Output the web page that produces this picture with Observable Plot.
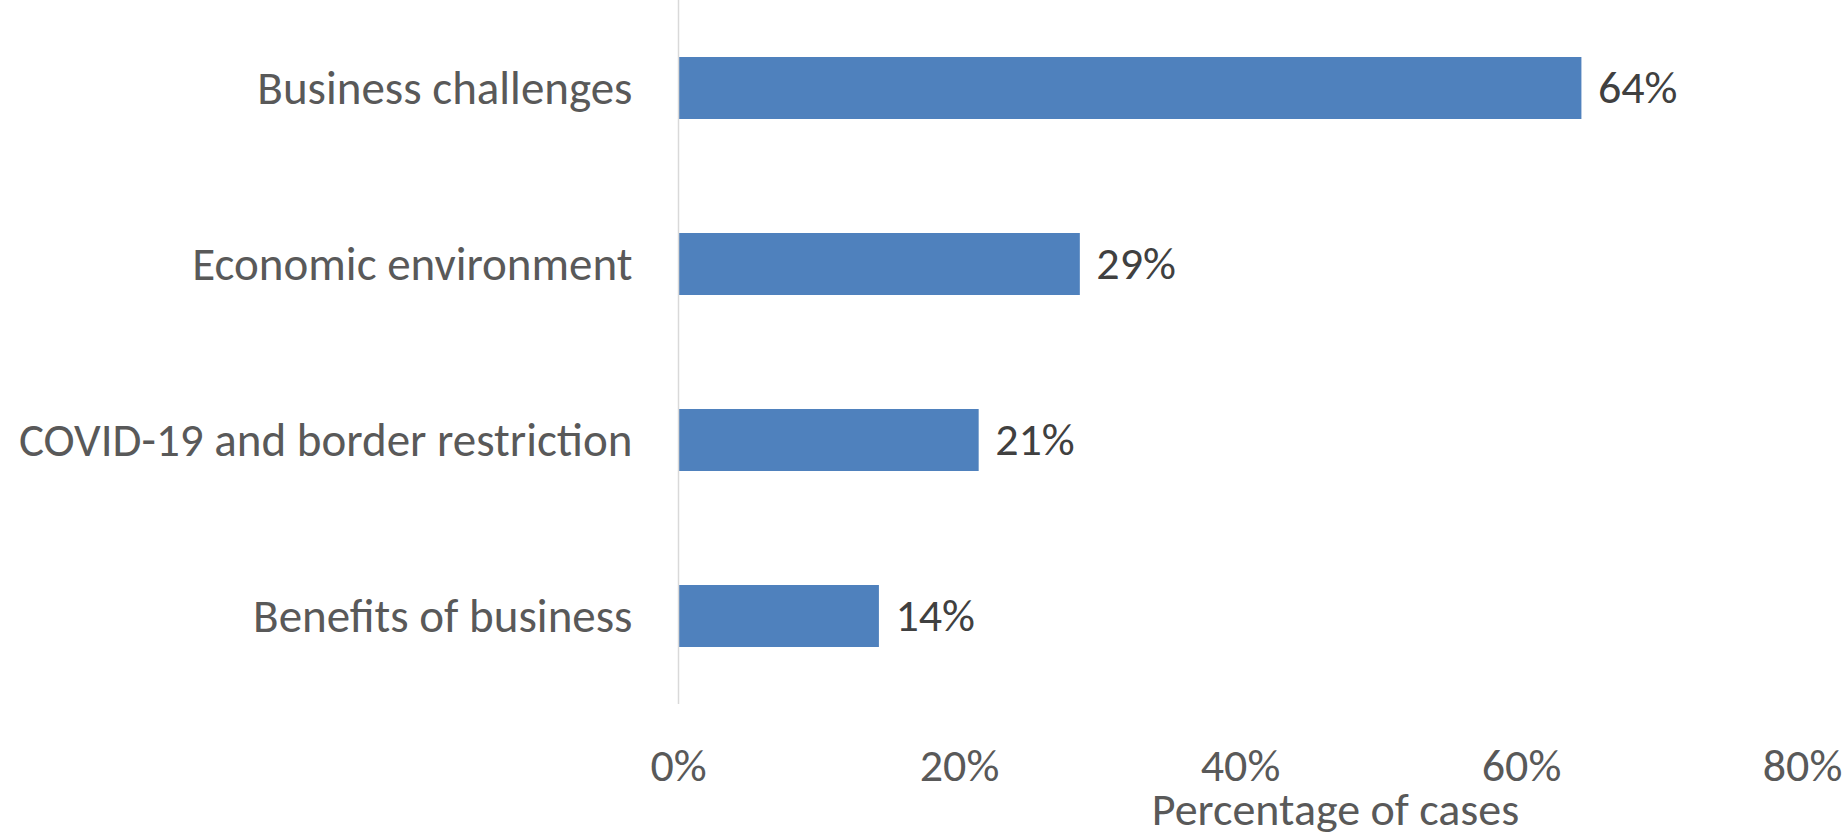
<!DOCTYPE html>
<html>
<head>
<meta charset="utf-8">
<script src="https://cdn.jsdelivr.net/npm/d3@7"></script>
<script src="https://cdn.jsdelivr.net/npm/@observablehq/plot@0.6"></script>
<style>
  html, body { margin: 0; padding: 0; background: #fff; }
  #chart svg { display: block; }
</style>
</head>
<body>
<div id="chart"></div>
<script>
const categories = ["Business challenges", "Economic environment", "COVID-19 and border restriction", "Benefits of business"];
const values = [64.3, 28.6, 21.4, 14.3];
const xTicks = [0, 20, 40, 60, 80];
const xLabel = "Percentage of cases";

const data = categories.map((c, i) => ({category: c, value: values[i]}));
const font = "Carlito, Calibri, Lato, sans-serif";

const chart = Plot.plot({
  width: 1845,
  height: 836,
  marginLeft: 678,
  marginRight: 43,
  marginTop: 0,
  marginBottom: 132,
  style: {fontFamily: font, background: "#fff"},
  x: {domain: [0, 80], ticks: xTicks},
  y: {domain: categories, paddingInner: 0.648, paddingOuter: 0.324, align: 0.5},
  marks: [
    Plot.barX(data, {x: "value", y: "category", fill: "#4F81BD"}),
    Plot.ruleX([0], {stroke: "#d9d9d9", strokeWidth: 1.5}),
    Plot.text(data, {x: "value", y: "category", text: d => Math.round(d.value) + "%", textAnchor: "start", dx: 16, fontSize: 46, fill: "#404040"}),
    Plot.axisX({ticks: xTicks, tickSize: 0, tickPadding: 44, tickFormat: d => d + "%", fontSize: 46, color: "#595959", label: null}),
    Plot.axisY({tickSize: 0, tickPadding: 46, fontSize: 47, color: "#595959", label: null}),
    Plot.text([xLabel], {frameAnchor: "bottom", dx: 95, dy: 120, lineAnchor: "bottom", fontSize: 46, fill: "#595959"})
  ]
});
document.getElementById("chart").appendChild(chart);
</script>
</body>
</html>
